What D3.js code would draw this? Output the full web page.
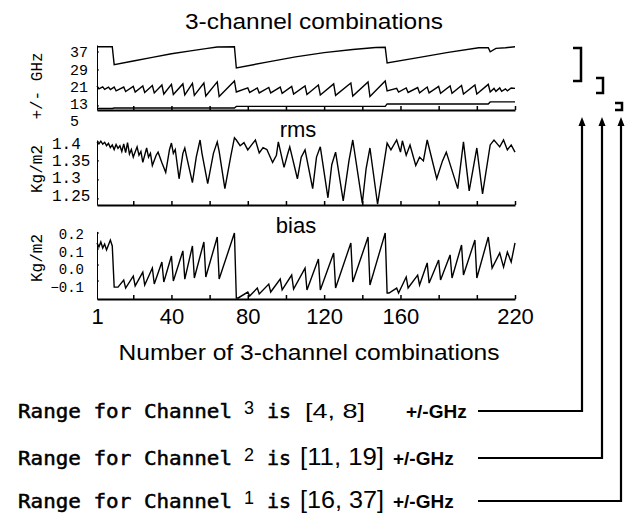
<!DOCTYPE html>
<html><head><meta charset="utf-8">
<script src="https://cdn.jsdelivr.net/npm/d3@7"></script>
<style>body{margin:0;background:#fff}svg{display:block}</style>
</head><body>
<script>
// ---------------- DATA ----------------
const xMinorTicks = [20,40,60,80,100,120,140,160,180,200,220];
const xTickLabels = [1,40,80,120,160,220];
const topTicks  = [37,29,21,13,5];
const rmsTicks  = [1.4,1.35,1.3,1.25];
const biasTicks = [0.2,0.1,0.0,-0.1];

// channel 1 (upper stepped line), [combination, GHz]
const ch1 = [[1,39.3],[9,39.3],[10,31.4],[20,33.0],[30,34.6],[40,36.2],[50,37.5],[58,38.5],[64,39.2],[73,39.3],
  [74,29.9],[90,32.5],[105,34.8],[120,36.7],[135,38.1],[147,39.0],[152,39.1],
  [153,32.1],[170,34.6],[185,36.8],[201,38.9],[206,38.9],[207,37.1],[210,38.6],[215,38.9],[220,39.3]];
// channel 2 (sawtooth)
const ch2 = [[1,21.9],[2,20.6],[4,21.5],[5,20.4],[7,21.4],[8,20.3],[10,21.4],
  [11,19.7],[15,21.4],[16,19.4],[20,21.7],[21,19.2],[25,21.9],[26,19.0],[30,22.1],[31,18.8],[35,22.3],[36,18.3],
  [40,22.6],[41,18.1],[46,22.8],[47,17.9],[51,23.0],[52,17.7],[57,23.2],[58,17.4],[64,23.7],[65,17.2],[73,24.1],
  [74,19.2],[80,21.0],[81,19.0],[85,21.0],[86,18.8],[91,21.2],[92,18.8],[97,21.4],[98,18.6],[103,21.7],[104,18.3],
  [110,21.9],[111,18.1],[117,22.3],[118,17.9],[125,22.8],[126,17.7],[134,23.2],[135,17.4],[143,23.7],[144,17.2],[152,24.1],
  [153,19.7],[158,20.8],[159,19.2],[163,21.0],[164,19.0],[169,21.2],[170,18.8],[174,21.4],[175,18.8],[180,21.7],[181,18.6],
  [186,21.9],[187,18.6],[192,22.1],[193,18.3],[199,22.3],[200,18.3],[206,22.6],[207,19.2],[209,20.8],[210,19.5],
  [212,21.0],[213,19.5],[215,20.6],[216,19.7],[218,21.0],[220,20.8]];
// channel 3 (lowest line)
const ch3 = [[1,11.9],[9,11.9],[10,12.1],[73,12.1],[74,12.8],[152,12.8],[153,13.9],[206,13.9],[207,14.8],[220,14.8]];

// rms, Kg/m2
const rms = [[1,1.400],[2,1.395],[3,1.402],[4,1.394],[5,1.399],[6,1.390],[7,1.396],[8,1.385],[9,1.392],
  [10,1.380],[11,1.393],[12,1.383],[13,1.390],[14,1.375],[15,1.395],[16,1.372],[17,1.398],[18,1.368],[19,1.380],[20,1.360],
  [22,1.387],[23,1.365],[24,1.375],[25,1.346],[27,1.384],[28,1.360],[29,1.370],[30,1.338],[32,1.365],[33,1.373],[35,1.345],
  [37,1.320],[39,1.380],[40,1.397],[41,1.370],[42,1.380],[44,1.303],[46,1.370],[47,1.384],[48,1.360],[51,1.293],[53,1.360],
  [55,1.405],[56,1.370],[59,1.290],[62,1.370],[64,1.400],[65,1.375],[68,1.277],[71,1.360],[73,1.411],
  [74,1.405],[76,1.390],[78,1.398],[80,1.379],[82,1.392],[84,1.405],[86,1.371],[88,1.385],[90,1.380],[93,1.346],[95,1.365],
  [96,1.400],[99,1.333],[101,1.370],[102,1.387],[106,1.303],[108,1.360],[110,1.379],[114,1.277],[116,1.360],[118,1.387],
  [122,1.253],[124,1.340],[126,1.373],[130,1.245],[133,1.350],[135,1.405],[140,1.239],[142,1.330],[144,1.384],[148,1.236],[150,1.300],
  [153,1.397],[155,1.379],[158,1.405],[160,1.373],[161,1.403],[163,1.365],[165,1.392],[168,1.338],[170,1.360],[172,1.350],
  [174,1.405],[179,1.303],[182,1.350],[184,1.373],[190,1.277],[193,1.400],[196,1.271],[200,1.384],[203,1.263],[207,1.392],
  [209,1.405],[212,1.387],[214,1.405],[216,1.379],[218,1.392],[220,1.373]];

// bias, Kg/m2
const bias = [[1,0.138],[2,0.113],[3,0.144],[4,0.106],[5,0.131],[6,0.094],[7,0.125],[8,0.156],[9,0.119],
  [10,-0.138],[12,-0.138],[15,-0.094],[16,-0.144],[20,-0.069],[21,-0.131],[25,-0.044],[26,-0.125],[30,-0.019],[31,-0.119],
  [35,0.019],[36,-0.106],[40,0.056],[41,-0.100],[46,0.088],[47,-0.088],[51,0.119],[52,-0.081],[57,0.144],[58,-0.075],
  [64,0.175],[65,-0.088],[73,0.200],
  [74,-0.206],[75,-0.206],[80,-0.169],[81,-0.194],[85,-0.144],[86,-0.181],[91,-0.119],[92,-0.169],[97,-0.088],[98,-0.156],
  [103,-0.063],[104,-0.150],[110,-0.019],[111,-0.156],[117,0.038],[118,-0.156],[125,0.075],[126,-0.144],[134,0.138],
  [135,-0.106],[143,0.175],[144,-0.125],[152,0.200],
  [153,-0.175],[154,-0.175],[158,-0.144],[159,-0.175],[163,-0.075],[164,-0.144],[169,-0.063],[170,-0.125],[174,0.013],
  [175,-0.113],[180,0.031],[181,-0.094],[186,0.063],[187,-0.081],[192,0.125],[193,-0.063],[199,0.156],[200,-0.081],
  [206,0.175],[208,-0.019],[212,0.075],[214,-0.013],[216,0.081],[218,0.019],[220,0.138]];

// annotation texts
const channelNums   = ["3","2","1"];
const channelRanges = ["[4, 8]","[11, 19]","[16, 37]"];

// ---------------- DRAW ----------------
const svg = d3.select("body").append("svg").attr("width",641).attr("height",516);
svg.append("rect").attr("width",641).attr("height",516).attr("fill","#fff");

const x = d3.scaleLinear().domain([1,220]).range([97,515]);
const SANS = "'Liberation Sans', Arial, sans-serif";
const MONO = "'Liberation Mono', 'Courier New', monospace";
const DMONO = "'DejaVu Sans Mono', monospace";

const panels = [
  {y:d3.scaleLinear().domain([11.2,40.1]).range([110,45]), series:[ch1,ch2,ch3], ticks:topTicks,
   lab:d3.scaleLinear().domain([37,13]).range([52,104]), clampMax:121, labX:70, anchor:"start", fs:15, fmt:d=>String(d),
   title:"+/- GHz", titleY:86},
  {y:d3.scaleLinear().domain([1.234,1.405]).range([205,140]), series:[rms], ticks:rmsTicks,
   lab:d3.scaleLinear().domain([1.4,1.25]).range([143,195]), labX:52, anchor:"start", fs:16, fmt:d=>String(d),
   title:"Kg/m2", titleY:169},
  {y:d3.scaleLinear().domain([-0.2125,0.21]).range([299,231.4]), series:[bias], ticks:biasTicks,
   lab:d3.scaleLinear().domain([0.2,-0.1]).range([234,287]), labX:84, anchor:"end", fs:14, fmt:d=>d3.format(".1f")(d),
   title:"Kg/m2", titleY:258}
];

panels.forEach((p,i)=>{
  const g = svg.append("g");
  const yr = p.y.range();
  const ax = g.append("g").attr("transform",`translate(0,${yr[0]})`)
    .call(d3.axisBottom(x).tickValues(xMinorTicks).tickSize(-4).tickSizeOuter(0).tickFormat(""));
  ax.select(".domain").attr("stroke","#000").attr("stroke-width",2.2);
  ax.selectAll(".tick line").attr("stroke","#000").attr("stroke-width",1.5);
  const ay = g.append("g").attr("transform",`translate(${x(1)},0)`)
    .call(d3.axisLeft(p.y).tickValues([]).tickSizeOuter(0));
  ay.select(".domain").attr("stroke","#000").attr("stroke-width",1);
  g.selectAll("text.yl").data(p.ticks).join("text").attr("class","yl")
    .attr("x",p.labX).attr("y",d=>p.clampMax? Math.min(p.lab(d),p.clampMax) : p.lab(d))
    .attr("dy","0.35em").attr("text-anchor",p.anchor)
    .attr("font-family",MONO).attr("font-size",p.fs).text(p.fmt);
  g.selectAll("line.ym").data(p.ticks.filter(d=>p.y(d)>=yr[1]-1 && p.y(d)<=yr[0])).join("line").attr("class","ym")
    .attr("x1",x(1)).attr("x2",x(1)+2).attr("y1",d=>p.y(d)).attr("y2",d=>p.y(d)).attr("stroke","#000");
  g.append("text").attr("transform",`translate(36,${p.titleY}) rotate(-90)`)
    .attr("text-anchor","middle").attr("dy","0.35em").attr("font-family",MONO).attr("font-size",16).text(p.title);
  const line = d3.line().x(d=>x(d[0])).y(d=>p.y(d[1]));
  p.series.forEach(s=>{
    g.append("path").attr("d",line(s)).attr("fill","none").attr("stroke","#000").attr("stroke-width",1.4)
     .attr("stroke-linejoin","miter");
  });
});

const xl = svg.append("g").attr("transform","translate(0,299)")
  .call(d3.axisBottom(x).tickValues(xTickLabels).tickSize(0).tickPadding(9).tickFormat(d=>String(d)));
xl.select(".domain").remove();
xl.selectAll("text").attr("font-family",SANS).attr("font-size",22).attr("fill","#000");

svg.append("text").attr("x",314).attr("y",29).attr("text-anchor","middle").attr("font-family",SANS)
  .attr("font-size",22).attr("textLength",258).attr("lengthAdjust","spacingAndGlyphs").text("3-channel combinations");
svg.append("text").attr("x",298).attr("y",137).attr("text-anchor","middle").attr("font-family",SANS)
  .attr("font-size",22).text("rms");
svg.append("text").attr("x",296).attr("y",233).attr("text-anchor","middle").attr("font-family",SANS)
  .attr("font-size",22).text("bias");
svg.append("text").attr("x",309).attr("y",360).attr("text-anchor","middle").attr("font-family",SANS)
  .attr("font-size",22).attr("textLength",381).attr("lengthAdjust","spacingAndGlyphs").text("Number of 3-channel combinations");

[[573,581,48,81],[596,603,78,93],[615,622,103,110]].forEach(b=>{
  svg.append("path").attr("d",`M${b[0]},${b[2]}H${b[1]}V${b[3]}H${b[0]}`).attr("fill","none")
    .attr("stroke","#000").attr("stroke-width",2.5);
});

const rowBase = [418,465,508];
const rangeX = [305,300,300];
const rangeW = [60,84,84];
const unitX = [406,393,393];
const vertX = [582,602,621];
channelNums.forEach((c,i)=>{
  const yb = rowBase[i];
  svg.append("text").attr("x",18).attr("y",yb).attr("font-family",DMONO)
    .attr("font-size",20).attr("stroke","#000").attr("stroke-width",0.5)
    .attr("textLength",214).attr("lengthAdjust","spacingAndGlyphs").text("Range for Channel");
  svg.append("text").attr("x",244).attr("y",yb-4).attr("font-family",SANS).attr("font-size",18).text(c);
  svg.append("text").attr("x",267).attr("y",yb).attr("font-family",DMONO)
    .attr("font-size",20).attr("stroke","#000").attr("stroke-width",0.5).text("is");
  svg.append("text").attr("x",rangeX[i]).attr("y",yb).attr("font-family",SANS).attr("font-size",i===0?21:23)
    .attr("textLength",rangeW[i]).attr("lengthAdjust","spacingAndGlyphs").text(channelRanges[i]);
  svg.append("text").attr("x",unitX[i]).attr("y",yb).attr("font-family",SANS).attr("font-weight","bold")
    .attr("font-size",19).text("+/-GHz");
  const cy = yb-7;
  svg.append("path").attr("d",`M478,${cy}H${vertX[i]}V124`).attr("fill","none").attr("stroke","#000").attr("stroke-width",2.2);
  svg.append("path").attr("d",`M${vertX[i]-3.5},126L${vertX[i]},117L${vertX[i]+3.5},126Z`).attr("fill","#000");
});
</script>
</body></html>
